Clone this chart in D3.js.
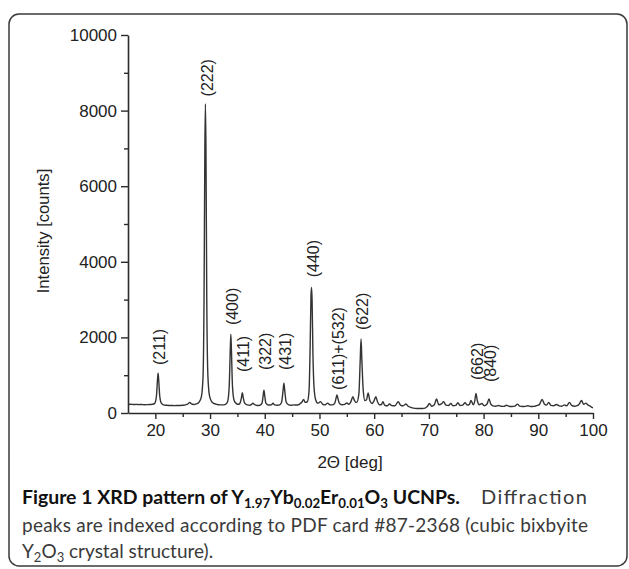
<!DOCTYPE html>
<html><head><meta charset="utf-8">
<script src="https://cdn.jsdelivr.net/npm/d3@7"></script>
<style>body{margin:0;background:#fff}svg{display:block}</style>
</head><body>
<svg id="chart" width="629" height="569"></svg>
<script>
// ---- data ----
const twoTheta = [15.0,15.5,16.0,16.5,17.0,17.5,18.0,18.5,19.0,19.5,19.9,20.2,20.4,20.5,20.6,20.8,21.1,21.5,22.0,22.5,23.0,23.5,24.0,24.5,25.0,25.5,26.0,26.3,26.6,27.0,27.5,28.0,28.4,28.7,28.9,29.05,29.15,29.25,29.4,29.6,29.9,30.3,30.8,31.3,31.8,32.3,32.8,33.2,33.5,33.7,33.8,33.9,34.1,34.4,34.8,35.2,35.5,35.75,35.9,36.05,36.3,36.8,37.3,37.6,37.85,38.1,38.6,39.1,39.5,39.7,39.85,40.0,40.2,40.7,41.2,41.5,41.8,42.3,42.8,43.1,43.35,43.5,43.65,43.9,44.3,44.8,45.3,45.8,46.3,46.8,47.1,47.4,47.8,48.1,48.3,48.45,48.55,48.65,48.8,49.0,49.3,49.7,50.2,50.6,51.0,51.5,51.9,52.4,52.8,53.05,53.2,53.35,53.6,54.1,54.6,55.0,55.4,55.8,56.1,56.4,56.8,57.2,57.45,57.6,57.75,58.0,58.3,58.6,58.9,59.2,59.6,60.0,60.3,60.6,61.0,61.3,61.6,61.9,62.4,62.8,63.2,63.8,64.4,64.8,65.3,65.8,66.2,66.7,67.2,67.8,68.3,68.8,69.3,69.7,70.1,70.5,71.0,71.4,71.8,72.3,72.7,73.1,73.6,74.0,74.4,74.9,75.3,75.7,76.2,76.6,77.0,77.4,77.7,78.1,78.4,78.6,78.85,79.2,79.7,80.1,80.6,81.0,81.3,81.7,82.2,82.7,83.2,83.7,84.2,84.6,85.2,85.7,86.2,86.6,87.1,87.6,88.1,88.6,89.2,89.7,90.2,90.7,91.1,91.5,91.9,92.3,92.8,93.3,93.8,94.3,94.8,95.2,95.7,96.1,96.6,97.1,97.5,97.9,98.3,98.7,99.1,99.5,99.8,100.0];
const counts = [225,230,225,228,222,226,220,222,225,230,260,450,900,1050,900,450,260,215,205,200,198,196,198,200,205,215,245,280,240,225,240,290,420,900,3000,7000,8180,7000,3000,1000,450,300,245,225,215,215,230,300,700,1700,2080,1700,700,330,250,230,270,420,540,420,270,215,205,230,260,225,200,205,260,450,600,450,260,210,215,260,215,205,220,300,600,790,600,300,220,205,215,210,230,290,360,280,300,600,1800,3100,3320,3000,1600,700,350,260,300,230,215,260,220,215,260,400,480,400,270,220,230,265,230,320,430,330,280,500,1400,1960,1400,600,330,350,530,330,250,330,430,300,220,220,300,210,190,240,195,190,300,210,190,240,180,150,130,120,118,120,130,170,250,180,220,370,220,240,300,210,200,250,190,200,270,200,210,270,210,230,330,220,330,520,330,220,250,190,230,370,240,190,180,200,180,175,205,180,170,180,235,180,170,175,190,170,175,195,220,360,240,210,280,200,190,225,190,180,215,190,280,200,180,195,240,330,230,260,210,180,150,140];

const peakAngles = [20.5, 29.15, 33.8, 35.9, 39.85, 43.5, 48.55, 53.2, 57.6, 78.6, 81.0];
const peakLabels = ["(211)", "(222)", "(400)", "(411)", "(322)", "(431)", "(440)", "(611)+(532)", "(622)", "(662)", "(840)"];
const peakLabelStart = [1270, 8375, 2325, 1085, 1135, 1135, 3590, 610, 2195, 870, 820];

const xTicks = [20, 30, 40, 50, 60, 70, 80, 90, 100];
const xMinorTicks = [25, 35, 45, 55, 65, 75, 85, 95];
const yTicks = [0, 2000, 4000, 6000, 8000, 10000];
const yMinorTicks = [1000, 3000, 5000, 7000, 9000];

const xTitle = "2\u0398 [deg]";
const yTitle = "Intensity [counts]";

// ---- drawing ----
const svg = d3.select("#chart");
const ink = "#2b2b2b";
const font = "'Liberation Sans', Arial, Helvetica, sans-serif";

// outer rounded frame
svg.append("rect").attr("x", 9).attr("y", 14).attr("width", 618).attr("height", 552)
  .attr("rx", 10).attr("fill", "none").attr("stroke", "#3a3a3a").attr("stroke-width", 1.5);

const x = d3.scaleLinear().domain([15, 100]).range([128, 593]);
const y = d3.scaleLinear().domain([0, 10000]).range([413, 35]);

// axes
const gx = svg.append("g").attr("transform", `translate(0,${y(0)})`);
gx.call(d3.axisBottom(x).tickValues(xTicks).tickSize(6).tickSizeOuter(0).tickPadding(5));
const gxm = svg.append("g").attr("transform", `translate(0,${y(0)})`);
gxm.call(d3.axisBottom(x).tickValues(xMinorTicks).tickSize(4).tickSizeOuter(0).tickFormat(""));
gxm.select(".domain").remove();

const gy = svg.append("g").attr("transform", `translate(${x(15)},0)`);
gy.call(d3.axisLeft(y).tickValues(yTicks).tickSize(7).tickSizeOuter(0).tickPadding(4).tickFormat(d3.format("d")));
const gym = svg.append("g").attr("transform", `translate(${x(15)},0)`);
gym.call(d3.axisLeft(y).tickValues(yMinorTicks).tickSize(4).tickSizeOuter(0).tickFormat(""));
gym.select(".domain").remove();

svg.selectAll(".domain").attr("stroke", ink).attr("stroke-width", 1.6);
svg.selectAll(".tick line").attr("stroke", ink).attr("stroke-width", 1.4);
svg.selectAll(".tick text").attr("fill", "#222").style("font-family", font).style("font-size", "17px");

// pattern line
const pts = twoTheta.map((t, i) => [t, counts[i]]);
svg.append("path").datum(pts)
  .attr("fill", "none").attr("stroke", "#333").attr("stroke-width", 1.4).attr("stroke-linejoin", "round")
  .attr("d", d3.line().x(d => x(d[0])).y(d => y(d[1])).curve(d3.curveMonotoneX));

// peak labels
svg.append("g").selectAll("text").data(peakLabels).join("text")
  .attr("transform", (d, i) => `translate(${x(peakAngles[i]) + 1.5},${y(peakLabelStart[i])}) rotate(-90)`)
  .attr("dy", "0.35em")
  .attr("fill", "#222").style("font-family", font).style("font-size", "16px")
  .text(d => d);

// axis titles
svg.append("text").attr("transform", `translate(43,231) rotate(-90)`)
  .attr("text-anchor", "middle").attr("dy", "0.35em")
  .attr("fill", "#222").style("font-family", font).style("font-size", "16.6px").text(yTitle);
svg.append("text").attr("x", 350).attr("y", 468).attr("text-anchor", "middle")
  .attr("fill", "#222").style("font-family", font).style("font-size", "17px").text(xTitle);

// caption
const capFont = "Lato, 'Open Sans', sans-serif";
const cap = svg.append("g").style("font-family", capFont);
function line(xPos, yPos, parts, target, adjust, anchor, size) {
  const t = cap.append("text").attr("x", xPos).attr("y", yPos).style("font-size", (size || 19) + "px");
  if (anchor) t.attr("text-anchor", anchor);
  parts.forEach(p => {
    const s = t.append("tspan").text(p.t);
    if (p.b) s.style("font-weight", "700").attr("fill", "#111");
    else s.style("font-weight", "400").attr("fill", "#3a3a3a");
    if (p.sub) s.style("font-size", "13px").attr("dy", "4");
    if (p.up) s.attr("dy", "-4");
  });
  if (target) t.attr("textLength", target).attr("lengthAdjust", adjust || "spacing");
  return t;
}
line(22, 504, [
  {t: "Figure 1 XRD pattern of Y", b: 1}, {t: "1.97", b: 1, sub: 1}, {t: "Yb", b: 1, up: 1},
  {t: "0.02", b: 1, sub: 1}, {t: "Er", b: 1, up: 1}, {t: "0.01", b: 1, sub: 1}, {t: "O", b: 1, up: 1},
  {t: "3", b: 1, sub: 1}, {t: " UCNPs.", b: 1, up: 1}
], 438, "spacingAndGlyphs");
line(587, 504, [{t: "Diffraction"}], 106, "spacing", "end", 20);
line(22, 532, [{t: "peaks are indexed according to PDF card #87-2368 (cubic bixbyite"}], 566);
line(22, 558, [{t: "Y"}, {t: "2", sub: 1}, {t: "O", up: 1}, {t: "3", sub: 1}, {t: " crystal structure).", up: 1}]);
</script>
</body></html>
